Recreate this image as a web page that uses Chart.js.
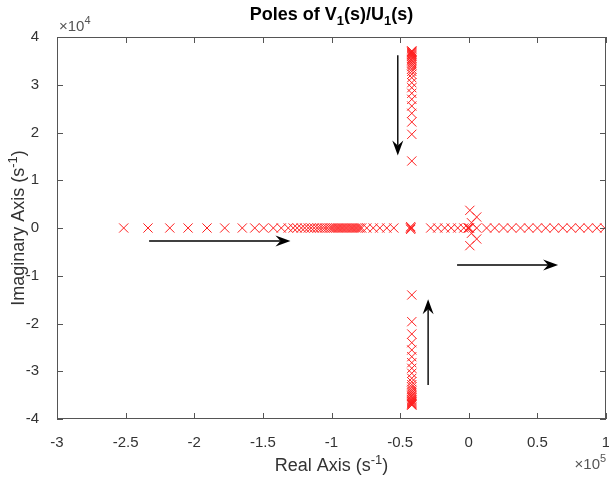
<!DOCTYPE html>
<html>
<head>
<meta charset="utf-8">
<script src="https://cdn.jsdelivr.net/npm/chart.js@4.4.1/dist/chart.umd.min.js"></script>
<style>
  html, body { margin: 0; padding: 0; background: #fff; }
  #wrap { width: 609px; height: 480px; }
</style>
</head>
<body>
<div id="wrap"><canvas id="c" width="609" height="480"></canvas></div>
<script>
// Axis limits and tick values (s^-1)
const realTicks = [-300000, -250000, -200000, -150000, -100000, -50000, 0, 50000, 100000];
const imagTicks = [-40000, -30000, -20000, -10000, 0, 10000, 20000, 30000, 40000];

// Poles lying on the real axis (s^-1)
const realAxisPoles = [
  -251400, -233700, -217800, -204500, -190700, -177800, -165000, -155900, -149400,
  -142400, -136600, -131500, -127900, -125000, -122000, -119500, -116900, -114800,
  -112600, -110400, -108600, -106700, -104900, -103100, -101300, -99800,
  -98400, -96900, -95400, -94000, -92500, -91100, -89600, -88200, -86700,
  -85200, -83800, -82300, -80900, -79400, -78000,
  -74300, -69600, -64800, -59700, -54600,
  -42300, -42300,
  -27700, -22600, -17500, -12800, -8000, -3600,
  5800, 13000, 18900, 25300, 31300, 37700, 43700, 50000, 56100, 62300,
  68500, 74700, 80900, 87100, 93300, 99100
];

// Complex-conjugate branch: common real part and upper imaginary parts (s^-1)
const branchRe = -41500;
const branchIm = [
  14030, 19620, 22200, 24020, 25550, 26950, 28210, 29380, 30430, 31480,
  32200, 32800, 33300, 33800, 34200, 34600, 35000, 35300, 35600, 35900,
  36100, 36300, 36500, 36700, 36850, 37000, 37100
];

// Poles clustered around the origin (s^-1)
const originRe = [0, -500, 500, 800, 800, 5800, 5800, 2000, 2000, -42300, -42300];
const originIm = [0, 0, 0, 3700, -3700, 2300, -2300, 1100, -1100, 300, -300];

// Direction arrows: [re0, im0, re1, im1] in s^-1, tip at the second point
const arrowPaths = [
  [-51700, 36200, -51700, 15200],
  [-29600, -32900, -29600, -14900],
  [-232900, -2720, -129900, -2720],
  [-8500, -7750, 65100, -7750]
];

const poles = [];
realAxisPoles.forEach(r => poles.push({ x: r, y: 0 }));
branchIm.forEach(v => { poles.push({ x: branchRe, y: v }); poles.push({ x: branchRe, y: -v }); });
originRe.forEach((r, i) => poles.push({ x: r, y: originIm[i] }));

const FONT = '"Liberation Sans", Arial, Helvetica, sans-serif';
const TXT = '#333333';

// Draw a run of text pieces with optional sub/superscripts, centred at (cx, base)
function richText(ctx, pieces, cx, base, size, bold) {
  const w = pieces.map(p => {
    const s = p.k ? size * 0.72 : size;
    ctx.font = (bold ? 'bold ' : '') + s + 'px ' + FONT;
    return ctx.measureText(p.t).width;
  });
  const total = w.reduce((a, b) => a + b, 0);
  let x = cx - total / 2;
  pieces.forEach((p, i) => {
    const s = p.k ? size * 0.72 : size;
    ctx.font = (bold ? 'bold ' : '') + s + 'px ' + FONT;
    const dy = p.k === 'sup' ? -size * 0.38 : p.k === 'sub' ? size * 0.3 : 0;
    ctx.fillText(p.t, x, base + dy);
    x += w[i];
  });
}

function drawArrow(ctx, x1, y1, x2, y2) {
  const ang = Math.atan2(y2 - y1, x2 - x1);
  const c = Math.cos(ang), s = Math.sin(ang);
  const L = 15, W = 5.5, notch = 5;
  ctx.beginPath();
  ctx.moveTo(x1, y1);
  ctx.lineTo(x2 - c * (L - notch), y2 - s * (L - notch));
  ctx.stroke();
  ctx.beginPath();
  ctx.moveTo(x2, y2);
  ctx.lineTo(x2 - c * L - s * W, y2 - s * L + c * W);
  ctx.lineTo(x2 - c * (L - notch), y2 - s * (L - notch));
  ctx.lineTo(x2 - c * L + s * W, y2 - s * L - c * W);
  ctx.closePath();
  ctx.fill();
}

const decorations = {
  id: 'decorations',
  afterDatasetsDraw(chart) {
    const { ctx, scales: { x, y } } = chart;
    ctx.save();
    ctx.strokeStyle = '#000';
    ctx.fillStyle = '#000';
    ctx.lineWidth = 1.4;
    arrowPaths.forEach(p => drawArrow(ctx,
      x.getPixelForValue(p[0]), y.getPixelForValue(p[1]),
      x.getPixelForValue(p[2]), y.getPixelForValue(p[3])));
    ctx.restore();
  },
  afterDraw(chart) {
    const { ctx, chartArea: a, scales: { x, y } } = chart;
    ctx.save();
    // axes box with inward ticks on all sides
    ctx.strokeStyle = '#555';
    ctx.lineWidth = 1;
    ctx.strokeRect(a.left + 0.5, a.top + 0.5, a.right - a.left - 1, a.bottom - a.top - 1);
    const tl = 6;
    ctx.beginPath();
    realTicks.forEach(v => {
      const px = Math.round(x.getPixelForValue(v)) + 0.5;
      ctx.moveTo(px, a.bottom); ctx.lineTo(px, a.bottom - tl);
      ctx.moveTo(px, a.top); ctx.lineTo(px, a.top + tl);
    });
    imagTicks.forEach(v => {
      const py = Math.round(y.getPixelForValue(v)) + 0.5;
      ctx.moveTo(a.left, py); ctx.lineTo(a.left + tl, py);
      ctx.moveTo(a.right, py); ctx.lineTo(a.right - tl, py);
    });
    ctx.stroke();

    ctx.fillStyle = '#000';
    ctx.textAlign = 'left';
    ctx.textBaseline = 'alphabetic';
    const cx = (a.left + a.right) / 2;
    richText(ctx, [
      { t: 'Poles of V' }, { t: '1', k: 'sub' }, { t: '(s)/U' }, { t: '1', k: 'sub' }, { t: '(s)' }
    ], cx, 20, 18, true);

    ctx.fillStyle = TXT;
    richText(ctx, [{ t: 'Real Axis (s' }, { t: '-1', k: 'sup' }, { t: ')' }], cx, 471, 18, false);

    ctx.save();
    ctx.translate(24, (a.top + a.bottom) / 2);
    ctx.rotate(-Math.PI / 2);
    richText(ctx, [{ t: 'Imaginary Axis (s' }, { t: '-1', k: 'sup' }, { t: ')' }], 0, 0, 18, false);
    ctx.restore();

    // exponent labels of the two axes
    ctx.fillStyle = '#555';
    ctx.font = '15px ' + FONT;
    ctx.fillText('\u00d710', a.left + 2, a.top - 6);
    let w = ctx.measureText('\u00d710').width;
    ctx.font = '11px ' + FONT;
    ctx.fillText('4', a.left + 2 + w, a.top - 13);
    ctx.font = '15px ' + FONT;
    ctx.fillText('\u00d710', a.right - w - 6, 469);
    ctx.font = '11px ' + FONT;
    ctx.fillText('5', a.right - 6, 462);
    ctx.restore();
  }
};

const tickFmt = (v, d) => String(Math.round(v / d * 10) / 10);

new Chart(document.getElementById('c'), {
  type: 'scatter',
  data: {
    datasets: [{
      label: 'Poles',
      data: poles,
      pointStyle: 'crossRot',
      pointRadius: 6.5,
      pointHoverRadius: 6.5,
      borderColor: 'rgb(255,30,30)',
      backgroundColor: 'rgb(255,30,30)',
      borderWidth: 1,
      showLine: false
    }]
  },
  options: {
    responsive: false,
    animation: false,
    events: [],
    devicePixelRatio: 1,
    layout: { autoPadding: false, padding: { top: 37, right: 3, left: 0, bottom: 0 } },
    plugins: { legend: { display: false }, tooltip: { enabled: false }, title: { display: false } },
    scales: {
      x: {
        type: 'linear',
        min: realTicks[0],
        max: realTicks[realTicks.length - 1],
        afterBuildTicks: s => { s.ticks = realTicks.map(v => ({ value: v })); },
        afterFit: s => { s.height = 61; s.paddingLeft = 0; s.paddingRight = 0; },
        grid: { display: false },
        border: { display: false },
        ticks: {
          callback: v => tickFmt(v, 1e5),
          color: TXT, font: { family: FONT, size: 15 }, padding: 7,
          maxRotation: 0, autoSkip: false
        }
      },
      y: {
        type: 'linear',
        min: imagTicks[0],
        max: imagTicks[imagTicks.length - 1],
        afterBuildTicks: s => { s.ticks = imagTicks.map(v => ({ value: v })); },
        afterFit: s => { s.width = 57; s.paddingTop = 0; s.paddingBottom = 0; },
        grid: { display: false },
        border: { display: false },
        ticks: {
          callback: v => tickFmt(v, 1e4),
          color: TXT, font: { family: FONT, size: 15 }, padding: 10,
          autoSkip: false
        }
      }
    }
  },
  plugins: [decorations]
});
</script>
</body>
</html>
